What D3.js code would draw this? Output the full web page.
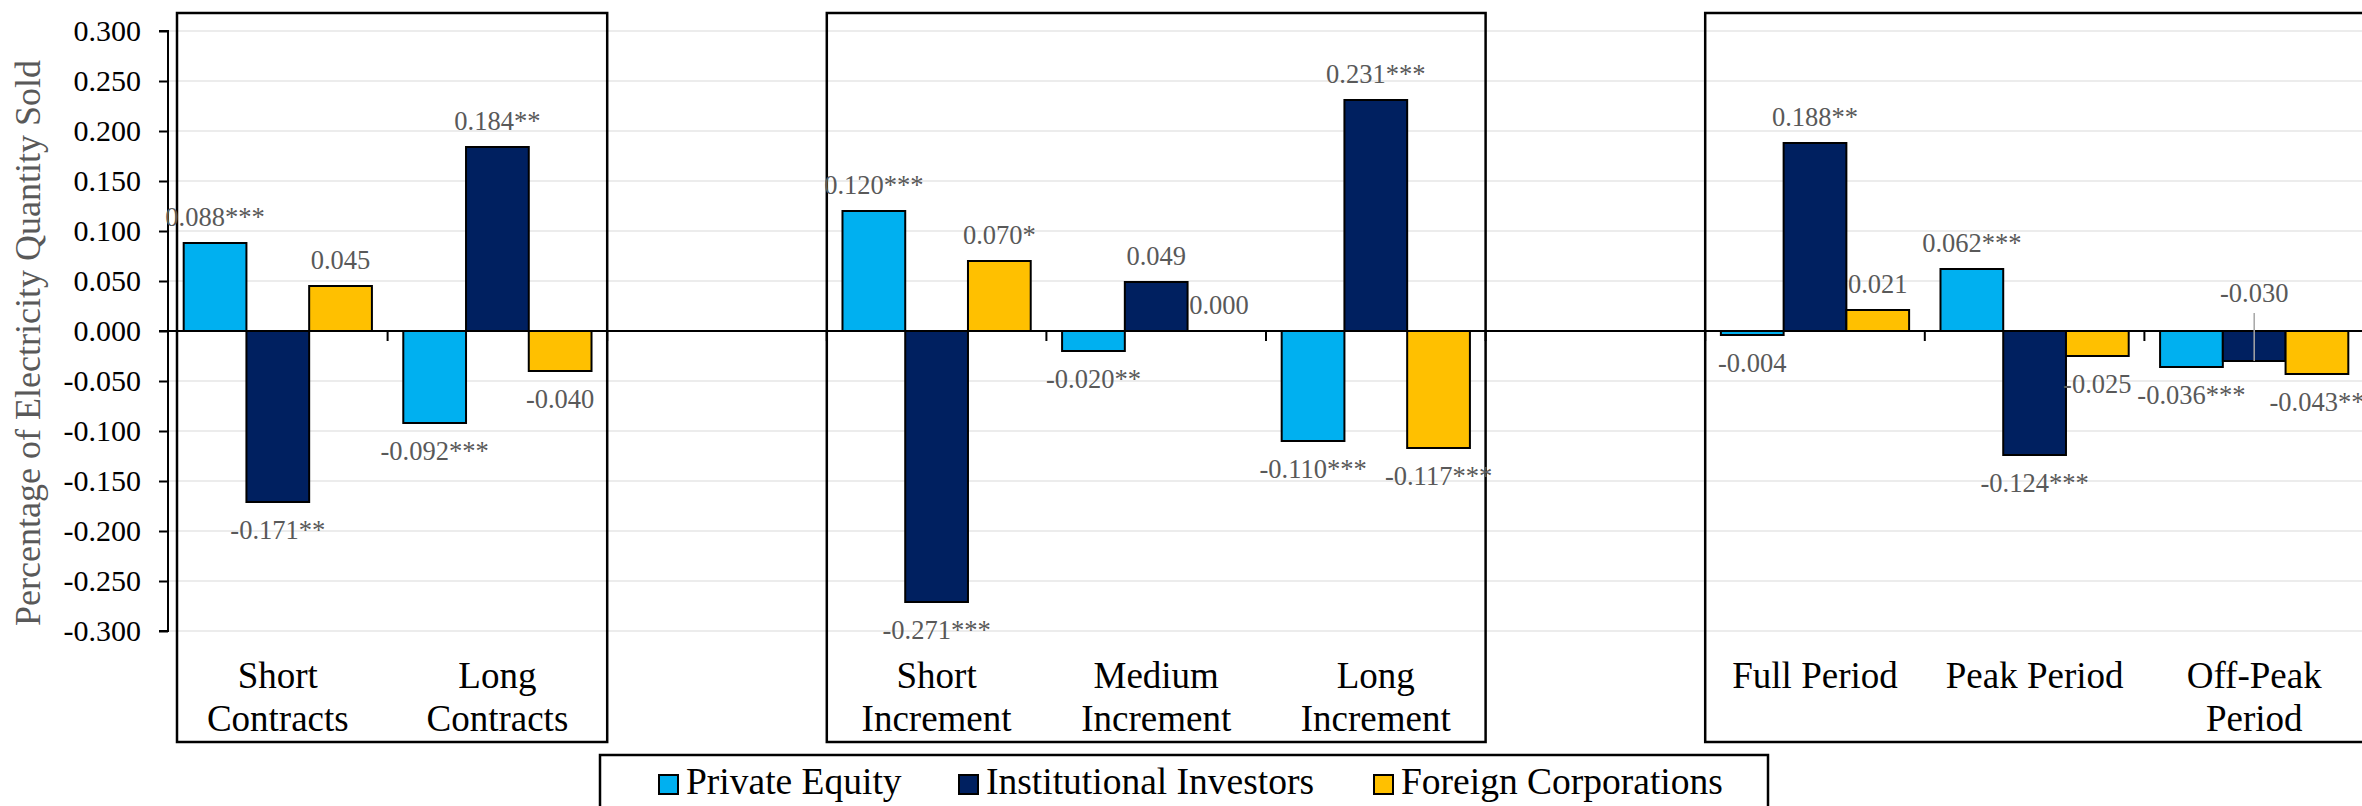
<!DOCTYPE html>
<html>
<head>
<meta charset="utf-8">
<script src="https://cdn.jsdelivr.net/npm/d3@7"></script>
<style>
  html, body { margin: 0; padding: 0; background: #ffffff; }
  svg { display: block; }
</style>
</head>
<body>
<svg id="chart" width="2362" height="806"></svg>
<script>
// ---- data ----
const categories = [
  "Short\nContracts", "Long\nContracts", "",
  "Short\nIncrement", "Medium\nIncrement", "Long\nIncrement", "",
  "Full Period", "Peak Period", "Off-Peak\nPeriod"
];
const seriesNames = ["Private Equity", "Institutional Investors", "Foreign Corporations"];
const seriesColors = ["#00B0F0", "#002060", "#FFC000"];

const privateEquity          = [0.088, -0.092, null, 0.120, -0.020, -0.110, null, -0.004, 0.062, -0.036];
const institutionalInvestors = [-0.171, 0.184, null, -0.271, 0.049, 0.231, null, 0.188, -0.124, -0.030];
const foreignCorporations    = [0.045, -0.040, null, 0.070, 0.000, -0.117, null, 0.021, -0.025, -0.043];

const privateEquityStars = ["***", "***", "", "***", "**", "***", "", "", "***", "***"];
const institutionalStars = ["**", "**", "", "***", "", "***", "", "**", "***", ""];
const foreignStars       = ["", "", "", "*", "", "***", "", "", "", "**"];

const yTicks = [0.300, 0.250, 0.200, 0.150, 0.100, 0.050, 0.000, -0.050, -0.100, -0.150, -0.200, -0.250, -0.300];
const yTitle = "Percentage of Electricity Quantity Sold";

// groups of categories framed together
const panels = [[0, 1], [3, 5], [7, 9]];

// ---- layout ----
const FONT = "'Liberation Serif', 'Times New Roman', Times, serif";
const svg = d3.select("#chart");
const W = 2362, H = 806;
const axisX = 168, catStep = 219.6;
const plotTop = 31, plotBottom = 631;
const frameTop = 13, frameBottom = 742;

const locale = d3.formatLocale({decimal: ".", thousands: ",", grouping: [3], currency: ["", ""], minus: "-"});
const fmt = locale.format(".3f");

const x = d3.scaleBand()
  .domain(d3.range(categories.length))
  .range([axisX, axisX + catStep * categories.length])
  .paddingInner(0).paddingOuter(0);

const xs = d3.scaleBand()
  .domain(d3.range(seriesNames.length))
  .range([0, x.bandwidth()])
  .paddingInner(0).paddingOuter(0.25);

const y = d3.scaleLinear().domain([-0.3, 0.3]).range([plotBottom, plotTop]);

const seriesValues = [privateEquity, institutionalInvestors, foreignCorporations];
const seriesStars = [privateEquityStars, institutionalStars, foreignStars];

// ---- gridlines ----
svg.append("g").selectAll("line")
  .data(yTicks)
  .join("line")
  .attr("x1", axisX).attr("x2", W + 10)
  .attr("y1", d => y(d)).attr("y2", d => y(d))
  .attr("stroke", "#ececec").attr("stroke-width", 2);

// ---- panel frames ----
const frameLeft = d => d[0] === 0 ? axisX + 9 : x(d[0]);
svg.append("g").selectAll("rect")
  .data(panels)
  .join("rect")
  .attr("x", frameLeft)
  .attr("y", frameTop)
  .attr("width", d => x(d[1]) + x.bandwidth() - frameLeft(d))
  .attr("height", frameBottom - frameTop)
  .attr("fill", "none").attr("stroke", "#000").attr("stroke-width", 2.5);

// ---- bars ----
const barData = [];
seriesValues.forEach((vals, s) => {
  vals.forEach((v, i) => {
    if (v !== null) barData.push({s, i, v, stars: seriesStars[s][i]});
  });
});

svg.append("g").selectAll("rect")
  .data(barData)
  .join("rect")
  .attr("x", d => x(d.i) + xs(d.s))
  .attr("width", xs.bandwidth())
  .attr("y", d => y(Math.max(0, d.v)))
  .attr("height", d => Math.abs(y(d.v) - y(0)))
  .attr("fill", d => seriesColors[d.s])
  .attr("stroke", "#000").attr("stroke-width", 2);

// ---- y axis ----
const yAxis = d3.axisLeft(y)
  .tickValues(yTicks)
  .tickSize(9)
  .tickPadding(18)
  .tickFormat(fmt);

const yg = svg.append("g")
  .attr("transform", `translate(${axisX},0)`)
  .call(yAxis);
yg.attr("font-family", null).attr("font-size", null);
yg.select(".domain").attr("stroke", "#000").attr("stroke-width", 2)
  .attr("d", `M-9,${y(0.3)}H0V${y(-0.3)}H-9`);
yg.selectAll(".tick line").attr("stroke", "#000").attr("stroke-width", 2);
yg.selectAll(".tick text")
  .style("font-family", FONT)
  .style("font-size", "30px")
  .attr("fill", "#000");

// ---- category axis along zero ----
svg.append("line")
  .attr("x1", axisX - 9).attr("x2", W + 10)
  .attr("y1", y(0)).attr("y2", y(0))
  .attr("stroke", "#000").attr("stroke-width", 2);

svg.append("g").selectAll("line")
  .data(d3.range(1, categories.length))
  .join("line")
  .attr("x1", d => x(d)).attr("x2", d => x(d))
  .attr("y1", y(0)).attr("y2", y(0) + 10)
  .attr("stroke", "#000").attr("stroke-width", 2);

// category labels
const catG = svg.append("g");
categories.forEach((c, i) => {
  if (!c) return;
  const cx = x(i) + x.bandwidth() / 2;
  const t = catG.append("text")
    .attr("x", cx)
    .attr("y", 688)
    .attr("text-anchor", "middle")
    .style("font-family", FONT)
    .style("font-size", "37px")
    .attr("fill", "#000");
  c.split("\n").forEach((ln, k) => {
    t.append("tspan")
      .attr("x", cx)
      .attr("dy", k === 0 ? 0 : 43)
      .text(ln);
  });
});

// ---- data labels ----
// labels lifted above the zero line with a leader line to their bar
const callouts = [{s: 1, i: 9, lift: 29}];

const labelG = svg.append("g");
barData.forEach(d => {
  const cx = x(d.i) + xs(d.s) + xs.bandwidth() / 2;
  const callout = callouts.find(c => c.s === d.s && c.i === d.i);
  let by;
  if (callout) {
    by = y(0) - callout.lift;
    labelG.append("line")
      .attr("x1", cx).attr("x2", cx)
      .attr("y1", y(0) - 18).attr("y2", y(d.v))
      .attr("stroke", "#a6a6a6").attr("stroke-width", 1.5);
  } else {
    by = d.v >= 0 ? y(d.v) - 17.5 : y(d.v) + 37;
  }
  labelG.append("text")
    .attr("x", cx).attr("y", by)
    .attr("text-anchor", "middle")
    .style("font-family", FONT)
    .style("font-size", "26.5px")
    .attr("fill", "#595959")
    .text(fmt(d.v) + d.stars);
});

// ---- y axis title ----
svg.append("text")
  .attr("transform", `translate(40,343) rotate(-90)`)
  .attr("text-anchor", "middle")
  .style("font-family", FONT)
  .style("font-size", "36px")
  .attr("fill", "#595959")
  .text(yTitle);

// ---- legend ----
const legendG = svg.append("g");
legendG.append("rect")
  .attr("x", 600).attr("y", 755)
  .attr("width", 1168).attr("height", 80)
  .attr("fill", "#fff").attr("stroke", "#000").attr("stroke-width", 2.5);

const legendX = [659, 959, 1374];
seriesNames.forEach((name, s) => {
  legendG.append("rect")
    .attr("x", legendX[s]).attr("y", 775)
    .attr("width", 19).attr("height", 19)
    .attr("fill", seriesColors[s]).attr("stroke", "#000").attr("stroke-width", 2);
  legendG.append("text")
    .attr("x", legendX[s] + 27).attr("y", 794)
    .style("font-family", FONT)
    .style("font-size", "37.5px")
    .attr("fill", "#000")
    .text(name);
});
</script>
</body>
</html>
